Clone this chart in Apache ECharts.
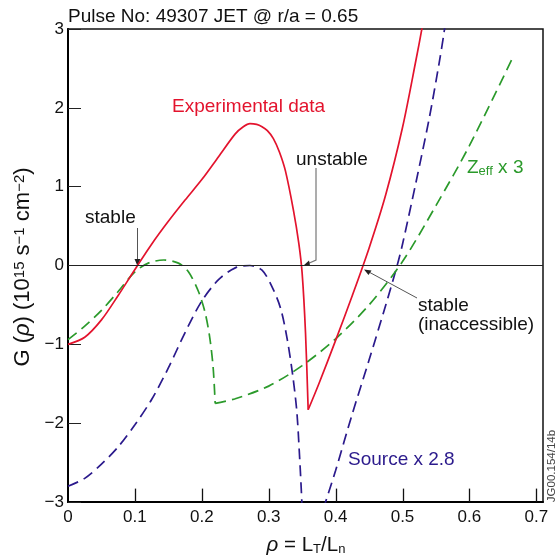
<!DOCTYPE html>
<html>
<head>
<meta charset="utf-8">
<script src="https://cdn.jsdelivr.net/npm/echarts@6/dist/echarts.min.js"></script>
<style>html,body{margin:0;padding:0;background:#fff}#c{width:558px;height:560px}</style>
</head>
<body>
<div id="c"></div>
<script>
// ---- data ----
const xTicks = [0, 0.1, 0.2, 0.3, 0.4, 0.5, 0.6, 0.7];
const yTicks = [-3, -2, -1, 0, 1, 2, 3];

// Experimental data (red) – up to the sharp minimum
const redAx = [0, 0.025, 0.05, 0.075, 0.1, 0.125, 0.15, 0.175, 0.2, 0.225, 0.25, 0.262, 0.272, 0.282, 0.29, 0.298, 0.307, 0.316, 0.325, 0.337, 0.345, 0.35, 0.355, 0.359];
const redAy = [-1.0, -0.91, -0.69, -0.38, -0.05, 0.27, 0.56, 0.83, 1.09, 1.38, 1.67, 1.76, 1.8, 1.79, 1.76, 1.71, 1.61, 1.44, 1.2, 0.7, 0.28, -0.1, -0.85, -1.83];
// Experimental data (red) – from the minimum upwards
const redBx = [0.359, 0.375, 0.4, 0.425, 0.45, 0.475, 0.5, 0.52, 0.53, 0.535];
const redBy = [-1.83, -1.5, -0.95, -0.38, 0.22, 0.9, 1.75, 2.6, 3.05, 3.3];

// Zeff x 3 (green dashed)
const greenAx = [0, 0.025, 0.05, 0.075, 0.1, 0.12, 0.143, 0.165, 0.18, 0.195, 0.205, 0.212, 0.217, 0.22];
const greenAy = [-0.94, -0.77, -0.57, -0.33, -0.08, 0.03, 0.07, 0.03, -0.08, -0.33, -0.6, -0.92, -1.3, -1.75];
const greenBx = [0.22, 0.25, 0.3, 0.35, 0.4, 0.45, 0.5, 0.55, 0.6, 0.666];
const greenBy = [-1.75, -1.69, -1.53, -1.27, -0.93, -0.5, 0.05, 0.76, 1.52, 2.66];

// Source x 2.8 (purple dashed)
const purpAx = [0, 0.025, 0.05, 0.075, 0.1, 0.125, 0.15, 0.175, 0.2, 0.225, 0.25, 0.272, 0.29, 0.305, 0.318, 0.328, 0.336, 0.342, 0.346, 0.349, 0.351];
const purpAy = [-2.8, -2.7, -2.52, -2.3, -2.02, -1.7, -1.3, -0.85, -0.45, -0.18, -0.03, 0.0, -0.06, -0.27, -0.55, -0.95, -1.4, -1.85, -2.4, -2.9, -3.3];
const purpBx = [0.374, 0.385, 0.4, 0.425, 0.45, 0.475, 0.492, 0.5, 0.52, 0.54, 0.555, 0.562, 0.57];
const purpBy = [-3.3, -3.0, -2.6, -1.88, -1.2, -0.5, 0.0, 0.27, 1.05, 1.87, 2.58, 2.95, 3.4];

const zip = (xs, ys) => xs.map((x, i) => [x, ys[i]]);

const RED = '#e3132d', PURPLE = '#2b1a8c', GREEN = '#2b9a2b';
const FONT = '"Liberation Sans", Arial, Helvetica, sans-serif';
const AF = 19;   // annotation font size
const TF = 17;   // tick label font size
const Y_MIN = -3, TICK_LEN = 0.17; // inward x tick length in y data units (~13 px)

const chart = echarts.init(document.getElementById('c'), null, {renderer: 'canvas'});

function lineSeries(data, color, dashed) {
  return {
    type: 'line', data: data, showSymbol: false, symbol: 'none', smooth: 0.3,
    clip: true, silent: true, animation: false,
    lineStyle: {color: color, width: 1.7, type: dashed ? [11, 6] : 'solid'}
  };
}

const series = [
  lineSeries(zip(purpAx, purpAy), PURPLE, true),
  lineSeries(zip(purpBx, purpBy), PURPLE, true),
  lineSeries(zip(greenAx, greenAy), GREEN, true),
  lineSeries(zip(greenBx, greenBy), GREEN, true),
  lineSeries(zip(redAx, redAy), RED, false),
  lineSeries(zip(redBx, redBy), RED, false)
];
series[0].markLine = {
  silent: true, symbol: 'none', label: {show: false}, animation: false,
  lineStyle: {color: '#222', width: 1, type: 'solid'},
  data: [{yAxis: 0}]
};

const option = {
  animation: false,
  backgroundColor: '#fff',
  grid: {left: 68, right: 15, top: 29, bottom: 58, show: true, borderColor: '#111', borderWidth: 1.5, containLabel: false},
  xAxis: {
    type: 'value', min: 0, max: 0.71, interval: 0.1, position: 'bottom',
    axisLine: {show: true, onZero: false, lineStyle: {color: '#000', width: 2}},
    axisTick: {show: false},
    axisLabel: {color: '#111', fontSize: TF, fontFamily: FONT, margin: 7, showMaxLabel: false,
      formatter: v => (xTicks.indexOf(Math.round(v * 10) / 10) >= 0 ? (v === 0 ? '0' : v.toFixed(1)) : '')},
    splitLine: {show: false}
  },
  yAxis: {
    type: 'value', min: Y_MIN, max: 3, interval: 1,
    axisLine: {show: true, lineStyle: {color: '#000', width: 2}},
    axisTick: {show: true, inside: true, length: 13, lineStyle: {color: '#222', width: 1}},
    axisLabel: {color: '#111', fontSize: TF, fontFamily: FONT, margin: 4,
      formatter: v => (yTicks.indexOf(v) >= 0 ? String(v).replace('-', '\u2212') : '')},
    splitLine: {show: false}
  },
  series: series,
  graphic: [
    {type: 'text', x: 68, y: 17, style: {text: 'Pulse No: 49307 JET @ r/a = 0.65', font: AF + 'px ' + FONT, fill: '#111', textVerticalAlign: 'middle'}},
    {type: 'text', x: 23, y: 267, rotation: Math.PI / 2,
      style: {text: 'G ({i|ρ}) (10{sup|15} s{sup|\u22121} cm{sup|\u22122})', font: '22px ' + FONT, fill: '#111', textAlign: 'center', textVerticalAlign: 'middle',
        rich: {i: {fontStyle: 'italic', fontSize: 22, fontFamily: FONT, fill: '#111'}, sup: {fontSize: 15, fontFamily: FONT, verticalAlign: 'top', fill: '#111'}}}},
    {type: 'text', x: 306, y: 545,
      style: {text: '{i|ρ} = L{sub|T}/L{sub|n}', font: '20.5px ' + FONT, fill: '#111', textAlign: 'center', textVerticalAlign: 'middle',
        rich: {i: {fontStyle: 'italic', fontSize: 20.5, fontFamily: FONT, fill: '#111'}, sub: {fontSize: 13, fontFamily: FONT, verticalAlign: 'bottom', fill: '#111'}}}},
    {type: 'text', x: 172, y: 107, style: {text: 'Experimental data', font: AF + 'px ' + FONT, fill: RED, textVerticalAlign: 'middle'}},
    {type: 'text', x: 296, y: 160, style: {text: 'unstable', font: AF + 'px ' + FONT, fill: '#111', textVerticalAlign: 'middle'}},
    {type: 'text', x: 467, y: 168,
      style: {text: 'Z{sub|eff} x 3', font: AF + 'px ' + FONT, fill: GREEN, textVerticalAlign: 'middle',
        rich: {sub: {fontSize: 13, fontFamily: FONT, verticalAlign: 'bottom', fill: GREEN}}}},
    {type: 'text', x: 85, y: 218, style: {text: 'stable', font: AF + 'px ' + FONT, fill: '#111', textVerticalAlign: 'middle'}},
    {type: 'text', x: 418, y: 306, style: {text: 'stable', font: AF + 'px ' + FONT, fill: '#111', textVerticalAlign: 'middle'}},
    {type: 'text', x: 418, y: 325, style: {text: '(inaccessible)', font: AF + 'px ' + FONT, fill: '#111', textVerticalAlign: 'middle'}},
    {type: 'text', x: 348, y: 460, style: {text: 'Source x 2.8', font: AF + 'px ' + FONT, fill: PURPLE, textVerticalAlign: 'middle'}},
    {type: 'text', x: 552, y: 466, rotation: Math.PI / 2,
      style: {text: 'JG00.154/14b', font: '11.5px ' + FONT, fill: '#444', textAlign: 'center', textVerticalAlign: 'middle'}},
    // arrows
    {type: 'polyline', shape: {points: [[137.5, 228], [137.5, 262]]}, style: {stroke: '#555', lineWidth: 1}},
    {type: 'polygon', shape: {points: [[134.5, 259], [140.5, 259], [137.5, 266]]}, style: {fill: '#222'}},
    {type: 'polyline', shape: {points: [[316, 168], [316, 260], [306, 264.5]]}, style: {stroke: '#777', lineWidth: 1.2}},
    {type: 'polygon', shape: {points: [[303, 266], [309, 260.5], [310, 265.5]]}, style: {fill: '#222'}},
    {type: 'polyline', shape: {points: [[417, 298], [368, 271.5]]}, style: {stroke: '#555', lineWidth: 1}},
    {type: 'polygon', shape: {points: [[364, 269.5], [371.5, 270.5], [368.5, 275]]}, style: {fill: '#222'}}
  ]
};
chart.setOption(option);

// inward ticks on the bottom axis, placed through the library's own scale
const tickEls = xTicks.filter(t => t > 0).map(t => {
  const p0 = chart.convertToPixel({gridIndex: 0}, [t, Y_MIN]);
  const p1 = chart.convertToPixel({gridIndex: 0}, [t, Y_MIN + TICK_LEN]);
  const x = Math.round(p0[0]) + 0.5;
  return {type: 'line', z: 100, shape: {x1: x, y1: p0[1], x2: x, y2: p1[1]}, style: {stroke: '#111', lineWidth: 1.3}};
});
chart.setOption({graphic: option.graphic.concat(tickEls)});
</script>
</body>
</html>
